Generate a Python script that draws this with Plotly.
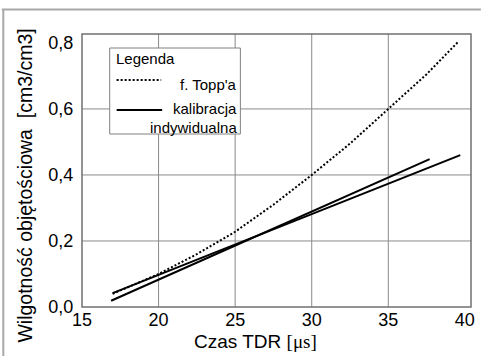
import plotly.graph_objects as go

# ---- data ----
x_ticks = [15, 20, 25, 30, 35, 40]
x_tick_text = ["15", "20", "25", "30", "35", "40"]
y_ticks = [0.0, 0.2, 0.4, 0.6, 0.8]
y_tick_text = ["0,0", "0,2", "0,4", "0,6", "0,8"]
x_grid = [20, 25, 30, 35]
y_grid = [0.2, 0.4, 0.6]

topp_x = [17.0, 20.0, 22.5, 25.0, 27.5, 30.0, 32.5, 35.0, 37.5, 39.6]
topp_y = [0.040, 0.100, 0.160, 0.228, 0.310, 0.400, 0.495, 0.600, 0.705, 0.805]

kal1_x = [17.0, 39.7]
kal1_y = [0.042, 0.460]
kal2_x = [16.9, 37.7]
kal2_y = [0.019, 0.448]

FONT = "Liberation Sans, Arial, sans-serif"
W, H = 485, 356
L, R, T, B = 82, 10, 34, 49
PW, PH = W - L - R, H - T - B


def px(xp):
    return (xp - L) / PW


def py(yp):
    return (H - B - yp) / PH


fig = go.Figure()
fig.add_trace(go.Scatter(x=topp_x, y=topp_y, mode="lines",
                         line=dict(color="black", width=2, dash="2px,2px"),
                         showlegend=False, hoverinfo="skip"))
fig.add_trace(go.Scatter(x=kal1_x, y=kal1_y, mode="lines",
                         line=dict(color="black", width=2),
                         showlegend=False, hoverinfo="skip"))
fig.add_trace(go.Scatter(x=kal2_x, y=kal2_y, mode="lines",
                         line=dict(color="black", width=2),
                         showlegend=False, hoverinfo="skip"))

shapes = []
for gx in x_grid:
    shapes.append(dict(type="line", xref="x", yref="paper", x0=gx, x1=gx, y0=0, y1=1,
                       line=dict(color="#8a8a8a", width=1), layer="below"))
for gy in y_grid:
    shapes.append(dict(type="line", xref="paper", yref="y", x0=0, x1=1, y0=gy, y1=gy,
                       line=dict(color="#8a8a8a", width=1), layer="below"))
# plot frame
shapes.append(dict(type="rect", xref="paper", yref="paper", x0=0, x1=1, y0=0, y1=1,
                   line=dict(color="#707070", width=1.5)))
# outer image frame (top and left only)
shapes.append(dict(type="line", xref="paper", yref="paper", x0=px(1), x1=px(W), y0=py(9.5), y1=py(9.5),
                   line=dict(color="#a8a8a8", width=2)))
shapes.append(dict(type="line", xref="paper", yref="paper", x0=px(2.5), x1=px(2.5), y0=py(9.5), y1=py(H),
                   line=dict(color="#a8a8a8", width=2)))
# legend box
shapes.append(dict(type="rect", xref="paper", yref="paper", x0=px(110), x1=px(242), y0=py(134), y1=py(48),
                   line=dict(color="#808080", width=1), fillcolor="white"))
shapes.append(dict(type="line", xref="paper", yref="paper", x0=px(117), x1=px(162), y0=py(80), y1=py(80),
                   line=dict(color="black", width=2, dash="2px,2px")))
shapes.append(dict(type="line", xref="paper", yref="paper", x0=px(117), x1=px(163), y0=py(110), y1=py(110),
                   line=dict(color="black", width=2)))

annotations = [
    dict(text="Legenda", xref="paper", yref="paper", x=px(114), y=py(58), xanchor="left", yanchor="middle",
         showarrow=False, font=dict(family=FONT, size=15, color="black")),
    dict(text="f. Topp'a", xref="paper", yref="paper", x=px(241), y=py(84), xanchor="right", yanchor="middle",
         showarrow=False, font=dict(family=FONT, size=15, color="black")),
    dict(text="kalibracja", xref="paper", yref="paper", x=px(241), y=py(108), xanchor="right", yanchor="middle",
         showarrow=False, font=dict(family=FONT, size=15, color="black")),
    dict(text="indywidualna", xref="paper", yref="paper", x=px(241), y=py(127), xanchor="right", yanchor="middle",
         showarrow=False, font=dict(family=FONT, size=15, color="black")),
    dict(text="Wilgotność objętościowa  [cm3/cm3]", xref="paper", yref="paper", x=px(24), y=py(186),
         xanchor="center", yanchor="middle", textangle=-90, showarrow=False,
         font=dict(family=FONT, size=19.5, color="black")),
    dict(text="Czas TDR <span style=\"font-family:'Liberation Serif', 'Times New Roman', serif\">[μs]</span>",
         xref="paper", yref="paper", x=px(257), y=py(341), xanchor="center", yanchor="middle",
         showarrow=False, font=dict(family=FONT, size=19, color="black")),
]

fig.update_layout(
    width=W, height=H,
    margin=dict(l=L, r=R, t=T, b=B),
    paper_bgcolor="white", plot_bgcolor="white",
    shapes=shapes, annotations=annotations,
    showlegend=False,
    font=dict(family=FONT, size=18, color="black"),
    xaxis=dict(range=[15, 40.4], tickvals=x_ticks, ticktext=x_tick_text, showgrid=False, zeroline=False,
               showline=False, ticks="", tickfont=dict(family=FONT, size=18, color="black")),
    yaxis=dict(range=[0, 0.827], tickvals=y_ticks, ticktext=y_tick_text, showgrid=False, zeroline=False,
               showline=False, ticks="outside", ticklen=4, tickcolor="rgba(0,0,0,0)",
               tickfont=dict(family=FONT, size=18, color="black")),
)

fig.write_html("out.html")
